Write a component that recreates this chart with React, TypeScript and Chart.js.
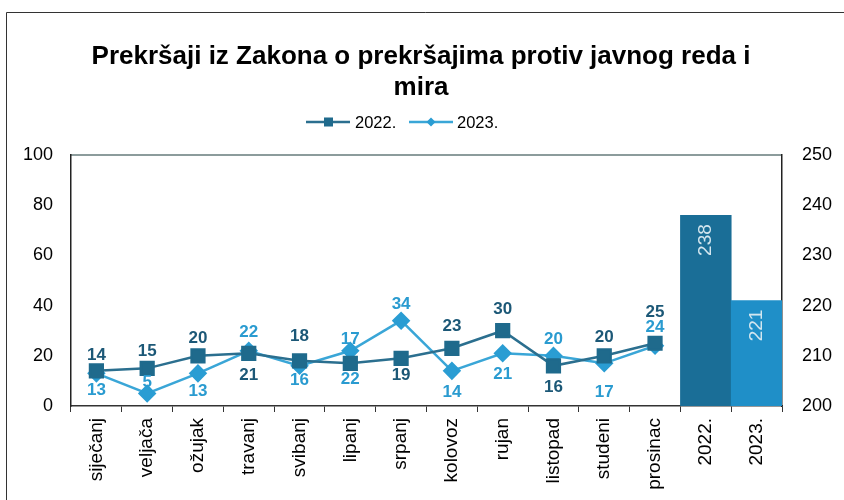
import React, { useEffect, useRef } from 'react';
import { Chart, registerables } from 'chart.js';

Chart.register(...registerables);

// ---- data ----
const months = ['siječanj', 'veljača', 'ožujak', 'travanj', 'svibanj', 'lipanj', 'srpanj', 'kolovoz', 'rujan', 'listopad', 'studeni', 'prosinac'];
const yearCategories = ['2022.', '2023.'];
const values2022 = [14, 15, 20, 21, 18, 17, 19, 23, 30, 16, 20, 25];
const values2023 = [13, 5, 13, 22, 16, 22, 34, 14, 21, 20, 17, 24];
const yearTotals = [238, 221];
const seriesNames = ['2022.', '2023.'];
const titleLines = ['Prekršaji iz Zakona o prekršajima protiv javnog reda i', 'mira'];
const leftTickRange = [0, 100, 20];
const rightTickRange = [200, 250, 10];

// ---- styles ----
const FONT = '"Liberation Sans", Arial, sans-serif';
const DARK = '#1f6a8c';
const DARK_LINE = '#2b6f8f';
const LIGHT = '#2a9dd3';
const LIGHT_LINE = '#3aa6d7';
const DARK_LABEL = '#1c5877';
const LIGHT_LABEL = '#2a9bd0';
const BAR_COLORS = ['#1a6e97', '#1f8fc8'];
// label offsets (px) from each point, negative = above
const off2022 = [-16, -17, -17, 22, -25, -24, 17, -22, -21, 21, -18, -31];
const off2023 = [17, -11, 18, -18, 14, 29, -16, 21, 21, -16, 29, -18];
const labelColor2022 = months.map((_, i) => (i === 5 ? LIGHT_LABEL : DARK_LABEL));

const categories = [...months, ...yearCategories];
const pad = (arr: (number | null)[], before: number, after: number) => [
  ...Array(before).fill(null),
  ...arr,
  ...Array(after).fill(null),
];

const labelPlugin = {
  id: 'customDraw',
  beforeDraw(chart: any) {
    const ctx = chart.ctx;
    ctx.save();
    ctx.fillStyle = '#ffffff';
    ctx.fillRect(0, 0, chart.width, chart.height);
    // frame
    ctx.strokeStyle = '#333';
    ctx.lineWidth = 1;
    ctx.beginPath();
    ctx.moveTo(6.5, 500);
    ctx.lineTo(6.5, 12.5);
    ctx.lineTo(844, 12.5);
    ctx.stroke();
    // plot top line
    const a = chart.chartArea;
    ctx.strokeStyle = '#8c9c9c';
    ctx.lineWidth = 2;
    ctx.beginPath();
    ctx.moveTo(a.left, a.top);
    ctx.lineTo(a.right, a.top);
    ctx.stroke();
    ctx.restore();
  },
  afterDraw(chart: any) {
    const ctx = chart.ctx;
    ctx.save();
    // title
    ctx.fillStyle = '#000';
    ctx.font = `bold 26px ${FONT}`;
    ctx.textAlign = 'center';
    ctx.textBaseline = 'middle';
    const cx = 421;
    ctx.fillText(titleLines[0], cx, 57);
    ctx.fillText(titleLines[1], cx, 88);

    // legend
    const ly = 122;
    ctx.lineWidth = 2.5;
    ctx.strokeStyle = DARK_LINE;
    ctx.beginPath();
    ctx.moveTo(306, ly);
    ctx.lineTo(350, ly);
    ctx.stroke();
    ctx.fillStyle = DARK;
    ctx.fillRect(324, ly - 4.5, 9, 9);
    ctx.strokeStyle = LIGHT_LINE;
    ctx.beginPath();
    ctx.moveTo(409, ly);
    ctx.lineTo(453, ly);
    ctx.stroke();
    ctx.fillStyle = LIGHT;
    ctx.beginPath();
    ctx.moveTo(431, ly - 4.5);
    ctx.lineTo(435.5, ly);
    ctx.lineTo(431, ly + 4.5);
    ctx.lineTo(426.5, ly);
    ctx.closePath();
    ctx.fill();
    ctx.fillStyle = '#000';
    ctx.font = `16.5px ${FONT}`;
    ctx.textAlign = 'left';
    ctx.fillText(seriesNames[0], 355, ly + 1);
    ctx.fillText(seriesNames[1], 457, ly + 1);

    // point labels
    ctx.font = `bold 17px ${FONT}`;
    ctx.textAlign = 'center';
    ctx.textBaseline = 'middle';
    const m0 = chart.getDatasetMeta(0);
    const m1 = chart.getDatasetMeta(1);
    values2022.forEach((v, i) => {
      const el = m0.data[i];
      if (!el) return;
      ctx.fillStyle = labelColor2022[i];
      ctx.fillText(String(v), el.x, el.y + off2022[i]);
    });
    values2023.forEach((v, i) => {
      const el = m1.data[i];
      if (!el) return;
      ctx.fillStyle = LIGHT_LABEL;
      ctx.fillText(String(v), el.x, el.y + off2023[i]);
    });

    // bar labels
    const mb = chart.getDatasetMeta(2);
    ctx.font = `19px ${FONT}`;
    ctx.fillStyle = '#d3e6ef';
    yearTotals.forEach((v, i) => {
      const el = mb.data[months.length + i];
      if (!el) return;
      ctx.save();
      ctx.translate(el.x, el.y + 9);
      ctx.rotate(-Math.PI / 2);
      ctx.textAlign = 'right';
      ctx.textBaseline = 'middle';
      ctx.fillText(String(v), 0, 0);
      ctx.restore();
    });
    ctx.restore();
  },
};

export default function App() {
  const ref = useRef<HTMLCanvasElement | null>(null);
  useEffect(() => {
    if (!ref.current) return;
    const chart = new Chart(ref.current, {
      type: 'bar',
      data: {
        labels: categories,
        datasets: [
          {
            type: 'line',
            label: seriesNames[0],
            data: pad(values2022, 0, yearCategories.length),
            yAxisID: 'y',
            borderColor: DARK_LINE,
            backgroundColor: DARK,
            borderWidth: 2.5,
            pointStyle: 'rect',
            pointRadius: 9,
            pointBorderColor: DARK,
            pointBackgroundColor: DARK,
            tension: 0,
            order: 0,
          } as any,
          {
            type: 'line',
            label: seriesNames[1],
            data: pad(values2023, 0, yearCategories.length),
            yAxisID: 'y',
            borderColor: LIGHT_LINE,
            backgroundColor: LIGHT,
            borderWidth: 2.5,
            pointStyle: 'rectRot',
            pointRadius: 7.5,
            pointBorderColor: LIGHT,
            pointBackgroundColor: LIGHT,
            tension: 0,
            order: 0,
          } as any,
          {
            type: 'bar',
            label: 'ukupno',
            data: pad(yearTotals, months.length, 0),
            yAxisID: 'y1',
            backgroundColor: [...Array(months.length).fill('transparent'), ...BAR_COLORS],
            barPercentage: 1,
            categoryPercentage: 1,
            order: 1,
          } as any,
        ],
      },
      options: {
        responsive: false,
        animation: false,
        layout: { padding: { top: 155, left: 0, right: 0, bottom: 0 } },
        plugins: {
          legend: { display: false },
          title: { display: false },
          tooltip: { enabled: false },
        },
        scales: {
          x: {
            type: 'category',
            offset: true,
            grid: {
              display: true,
              drawOnChartArea: false,
              drawTicks: true,
              tickLength: 6,
              color: '#333',
              offset: true,
            },
            border: { display: true, color: '#333', width: 1.5 },
            ticks: {
              autoSkip: false,
              minRotation: 90,
              maxRotation: 90,
              padding: 6,
              color: '#000',
              font: { family: FONT, size: 19 },
            },
            afterFit: (s: any) => {
              s.height = 94;
            },
          },
          y: {
            position: 'left',
            min: leftTickRange[0],
            max: leftTickRange[1],
            grid: { display: false, drawTicks: false },
            border: { display: true, color: '#222', width: 1.5 },
            ticks: {
              stepSize: leftTickRange[2],
              padding: 18,
              color: '#000',
              font: { family: FONT, size: 18 },
            },
            afterFit: (s: any) => {
              s.width = 71;
            },
          },
          y1: {
            position: 'right',
            min: rightTickRange[0],
            max: rightTickRange[1],
            grid: { display: false, drawTicks: false },
            border: { display: true, color: '#222', width: 1.5 },
            ticks: {
              stepSize: rightTickRange[2],
              padding: 20,
              color: '#000',
              font: { family: FONT, size: 18 },
            },
            afterFit: (s: any) => {
              s.width = 62;
            },
          },
        },
      } as any,
      plugins: [labelPlugin],
    });
    return () => chart.destroy();
  }, []);

  return (
    <div style={{ position: 'absolute', left: 0, top: 0, width: 844, height: 500, background: '#fff' }}>
      <canvas ref={ref} width={844} height={500} style={{ display: 'block' }} />
    </div>
  );
}
